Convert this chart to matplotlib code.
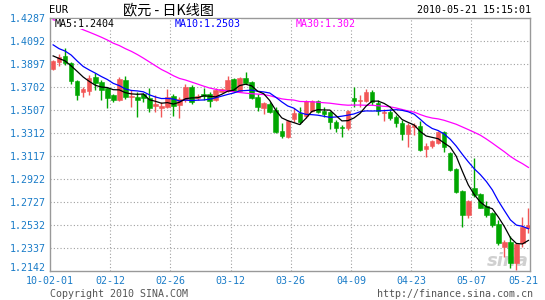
import numpy as np
import pandas as pd
import matplotlib
matplotlib.use('Agg')
import matplotlib.pyplot as plt

# closes of the 29 sessions before 2010-02-01 (only used to start the moving averages)
pre_close = [1.4340, 1.4250, 1.4220, 1.4305, 1.4380, 1.4370, 1.4370, 1.4330, 1.4320, 1.4415,
             1.4365, 1.4405, 1.4315, 1.4410, 1.4515, 1.4485, 1.4530, 1.4495, 1.4375, 1.4385,
             1.4285, 1.4105, 1.4090, 1.4140, 1.4145, 1.4070, 1.4005, 1.3965, 1.3865]

# daily EUR candles, 2010-02-01 .. 2010-05-21
opens = [1.3855, 1.3917, 1.3965, 1.3908, 1.3753, 1.3662, 1.3671, 1.3785, 1.3747, 1.3691,
         1.3634, 1.3592, 1.3762, 1.3615, 1.3617, 1.3640, 1.3606, 1.3541, 1.3522, 1.3535,
         1.3626, 1.3550, 1.3592, 1.3705, 1.3606, 1.3640, 1.3640, 1.3592, 1.3662, 1.3668,
         1.3770, 1.3668, 1.3781, 1.3742, 1.3620, 1.3527, 1.3556, 1.3507, 1.3329, 1.3281,
         1.3428, 1.3479, 1.3459, 1.3499, 1.3584, 1.3499, 1.3488, 1.3408, 1.3366, 1.3352,
         1.3606, 1.3584, 1.3584, 1.3662, 1.3569, 1.3479, 1.3493, 1.3450, 1.3399, 1.3304,
         1.3360, 1.3372, 1.3174, 1.3202, 1.3230, 1.3323, 1.3145, 1.3004, 1.2820, 1.2617,
         1.2843, 1.2795, 1.2691, 1.2631, 1.2538, 1.2348, 1.2390, 1.2207, 1.2382, 1.2504]
highs = [1.3931, 1.3982, 1.4033, 1.3914, 1.3762, 1.3700, 1.3804, 1.3818, 1.3762, 1.3702,
         1.3643, 1.3785, 1.3796, 1.3677, 1.3662, 1.3649, 1.3696, 1.3634, 1.3578, 1.3685,
         1.3640, 1.3620, 1.3725, 1.3719, 1.3640, 1.3696, 1.3657, 1.3691, 1.3696, 1.3798,
         1.3781, 1.3790, 1.3829, 1.3753, 1.3640, 1.3578, 1.3578, 1.3535, 1.3394, 1.3422,
         1.3522, 1.3535, 1.3592, 1.3592, 1.3595, 1.3535, 1.3499, 1.3422, 1.3380, 1.3507,
         1.3705, 1.3634, 1.3685, 1.3677, 1.3592, 1.3513, 1.3513, 1.3465, 1.3422, 1.3399,
         1.3399, 1.3416, 1.3225, 1.3253, 1.3332, 1.3332, 1.3154, 1.3013, 1.2829, 1.2744,
         1.3098, 1.2801, 1.2736, 1.2645, 1.2574, 1.2405, 1.2439, 1.2377, 1.2597, 1.2674]
lows = [1.3846, 1.3883, 1.3889, 1.3728, 1.3592, 1.3620, 1.3634, 1.3677, 1.3592, 1.3527,
        1.3578, 1.3584, 1.3598, 1.3535, 1.3445, 1.3573, 1.3493, 1.3493, 1.3450, 1.3527,
        1.3456, 1.3437, 1.3578, 1.3556, 1.3592, 1.3592, 1.3535, 1.3584, 1.3657, 1.3662,
        1.3657, 1.3657, 1.3725, 1.3600, 1.3499, 1.3473, 1.3479, 1.3310, 1.3272, 1.3267,
        1.3408, 1.3386, 1.3442, 1.3488, 1.3479, 1.3450, 1.3346, 1.3323, 1.3281, 1.3338,
        1.3535, 1.3535, 1.3578, 1.3550, 1.3465, 1.3416, 1.3422, 1.3366, 1.3253, 1.3196,
        1.3295, 1.3162, 1.3111, 1.3182, 1.3219, 1.3154, 1.2990, 1.2801, 1.2518, 1.2589,
        1.2770, 1.2674, 1.2600, 1.2518, 1.2362, 1.2263, 1.2165, 1.2150, 1.2348, 1.2462]
closes = [1.3923, 1.3959, 1.3903, 1.3753, 1.3634, 1.3683, 1.3776, 1.3739, 1.3677, 1.3612,
          1.3592, 1.3768, 1.3620, 1.3626, 1.3595, 1.3606, 1.3522, 1.3556, 1.3544, 1.3620,
          1.3544, 1.3600, 1.3705, 1.3578, 1.3628, 1.3623, 1.3586, 1.3677, 1.3683, 1.3762,
          1.3668, 1.3781, 1.3734, 1.3612, 1.3535, 1.3564, 1.3493, 1.3323, 1.3287, 1.3414,
          1.3484, 1.3408, 1.3584, 1.3584, 1.3488, 1.3473, 1.3403, 1.3352, 1.3357, 1.3499,
          1.3586, 1.3595, 1.3657, 1.3573, 1.3501, 1.3490, 1.3442, 1.3394, 1.3304, 1.3380,
          1.3380, 1.3168, 1.3202, 1.3244, 1.3323, 1.3196, 1.2998, 1.2814, 1.2617, 1.2736,
          1.2786, 1.2679, 1.2617, 1.2532, 1.2382, 1.2385, 1.2207, 1.2371, 1.2512, 1.2532]

y_labels = ['1.2142', '1.2337', '1.2532', '1.2727', '1.2922', '1.3117',
            '1.3312', '1.3507', '1.3702', '1.3897', '1.4092', '1.4287']
x_dates = ['2010-02-01', '2010-02-12', '2010-02-26', '2010-03-12', '2010-03-26',
           '2010-04-09', '2010-04-23', '2010-05-07', '2010-05-21']
x_labels = ['10-02-01', '02-12', '02-26', '03-12', '03-26', '04-09', '04-23', '05-07', '05-21']
ma_texts = ['MA5:1.2404', 'MA10:1.2503', 'MA30:1.302']

RED = '#f25757'
GREEN = '#00a600'
BLUE_TXT = '#1a7cc8'
MONO = 'DejaVu Sans Mono'

days = pd.bdate_range('2010-02-01', '2010-05-21')
x = np.arange(len(days))
o = np.array(opens)
c = np.array(closes)
up = c >= o
col = np.where(up, RED, GREEN)

# moving averages of close
allc = pd.Series(pre_close + closes)
n0 = len(pre_close)
ma5 = allc.rolling(5).mean().iloc[n0:].values
ma10 = allc.rolling(10).mean().iloc[n0:].values
ma30 = allc.rolling(30).mean().iloc[n0:].values

W, H = 545, 300
fig = plt.figure(figsize=(W / 100, H / 100), dpi=100)
ax = fig.add_axes([50 / W, 1 - 271 / H, 480 / W, 253 / H])

ax.set_xlim(-0.52, 79.26)
yv = [float(v) for v in y_labels]
ax.set_ylim(yv[0], yv[-1])

# grid
for v in yv[1:-1]:
    ax.axhline(v, color='#a0a0a0', lw=0.8, ls=(0, (1, 2)), zorder=0)
date_pos = [days.get_loc(pd.Timestamp(d)) for d in x_dates]
for p in date_pos[1:-1]:
    ax.axvline(p + 0.5, color='#a0a0a0', lw=0.8, ls=(0, (1, 2)), zorder=0)

ax.text(0.998, 0.004, 'sina', transform=ax.transAxes, ha='right', va='bottom',
        fontsize=13, fontweight='bold', style='italic', color='#d0d0d0', zorder=0.5)

# candles
ax.vlines(x, lows, highs, colors=col, lw=1.0, zorder=2)
body = np.where(np.abs(c - o) < 0.0002, 0.0002, c - o)
ax.bar(x, body, bottom=o, width=0.75, color=col, edgecolor=col, lw=0.4, zorder=3)

ax.plot(x, ma30, color='#ff00ff', lw=0.9, zorder=4)
ax.plot(x, ma10, color='#0000ff', lw=0.9, zorder=4)
ax.plot(x, ma5, color='black', lw=0.9, zorder=4)

for s in ax.spines.values():
    s.set_color('#999999')
    s.set_linewidth(1.0)

ax.set_yticks(yv)
ax.set_yticklabels(y_labels, fontfamily=MONO, fontsize=7.2, color=BLUE_TXT)
ax.get_yticklabels()[0].set_va('baseline')
ax.tick_params(axis='y', length=0, pad=3)
ax.set_xticks([])

xt = ax.get_xaxis_transform()
for i, (p, lab) in enumerate(zip(date_pos, x_labels)):
    if i == 0:
        px = ax.get_xlim()[0]
    elif i == len(date_pos) - 1:
        px = p - 0.8
    else:
        px = p + 0.5
    ax.text(px, -10 / 253, lab, transform=xt, ha='center', va='center',
            fontfamily=MONO, fontsize=7.2, color=BLUE_TXT, clip_on=False)

# MA legend row
ma_cols = ['black', '#0000ff', '#ff00ff']
ma_x = [55, 175, 296]
for t, cc, px in zip(ma_texts, ma_cols, ma_x):
    fig.text(px / W, 1 - 24 / H, t, ha='left', va='center', fontfamily=MONO,
             fontsize=7.2, color=cc, zorder=10,
             bbox=dict(facecolor='white', edgecolor='none', pad=0.2))

# header
fig.text(49 / W, 1 - 10 / H, 'EUR', ha='left', va='center', fontfamily=MONO, fontsize=7.6)
fig.text(168 / W, 1 - 10 / H, '欧元 - 日K线图', ha='center', va='center',
         family=['Noto Sans CJK SC', 'DejaVu Sans'], fontsize=10.2)
fig.text(531 / W, 1 - 10 / H, '2010-05-21 15:15:01', ha='right', va='center',
         fontfamily=MONO, fontsize=7.2)

fig.text(50 / W, 1 - 294 / H, 'Copyright 2010 SINA.COM', ha='left', va='center',
         fontfamily=MONO, fontsize=7.2, color='#555555')
fig.text(533 / W, 1 - 294 / H, 'http://finance.sina.com.cn', ha='right', va='center',
         fontfamily=MONO, fontsize=7.2, color='#555555')

fig.savefig('out.png', dpi=100)
